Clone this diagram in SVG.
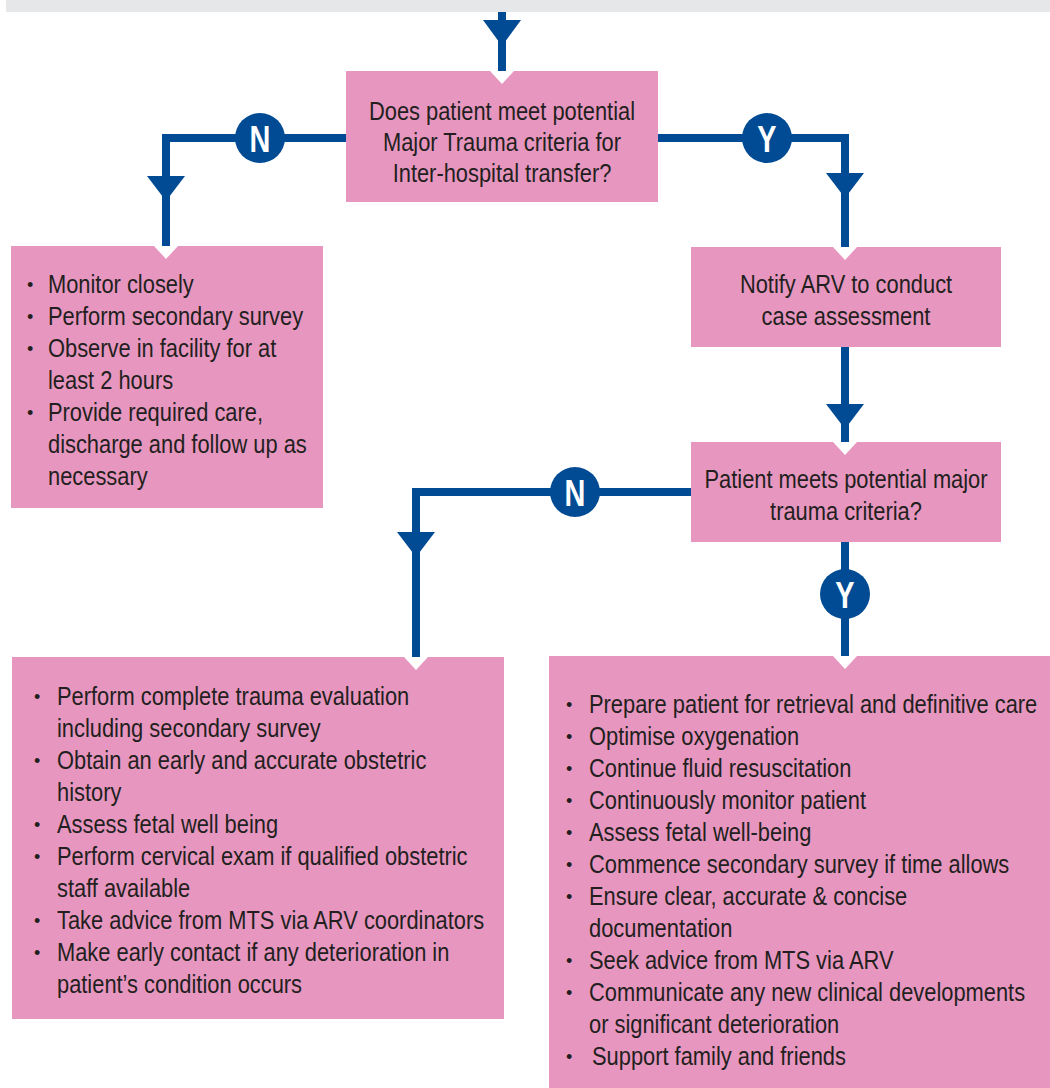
<svg xmlns="http://www.w3.org/2000/svg" width="1050" height="1088" viewBox="0 0 1050 1088">
<defs>
<style>
.box{fill:#e797bf}
.notch{fill:#ffffff}
.t{font-family:"Liberation Sans",Arial,sans-serif;font-size:25px;fill:#231f20;transform-box:fill-box;transform-origin:left center;transform:scaleX(0.875)}
.c{text-anchor:middle;transform-origin:center center}
.b{font-family:"Liberation Sans",Arial,sans-serif;font-size:18px;fill:#231f20}
.ln{stroke:#004b93;stroke-width:8;fill:none}
.ah{fill:#004b93}
.circ{fill:#004b93}
.lbl{font-family:"Liberation Sans",Arial,sans-serif;font-size:37px;font-weight:bold;fill:#ffffff;text-anchor:middle;transform-box:fill-box;transform-origin:center center;transform:scaleX(0.78)}
</style>
</defs>
<rect x="6" y="0" width="1044" height="12" fill="#e6e7e8"/>

<g id="connectors">
  <path class="ln" d="M502,12 V71"/>
  <polygon class="ah" points="483,20 521,20 502,46"/>
  <path class="ln" d="M346,138 H166 V246"/>
  <polygon class="ah" points="147,176 185,176 166,201"/>
  <path class="ln" d="M658,138 H845 V247"/>
  <polygon class="ah" points="826,173 864,173 845,198"/>
  <path class="ln" d="M845,347 V442"/>
  <polygon class="ah" points="826,404 864,404 845,429"/>
  <path class="ln" d="M691,492 H416 V657"/>
  <polygon class="ah" points="397,532 435,532 416,557"/>
  <path class="ln" d="M845,542 V656"/>
  <g id="lblN1"><circle class="circ" cx="260" cy="138" r="25"/><text class="lbl" x="260" y="152">N</text></g>
  <g id="lblY1"><circle class="circ" cx="767" cy="138" r="25"/><text class="lbl" x="767" y="152">Y</text></g>
  <g id="lblN2"><circle class="circ" cx="575" cy="492" r="25"/><text class="lbl" x="575" y="506">N</text></g>
  <g id="lblY2"><circle class="circ" cx="845" cy="594" r="25"/><text class="lbl" x="845" y="608">Y</text></g>
</g>

<g id="decision1">
  <rect class="box" x="346" y="71" width="312" height="131"/>
  <polygon class="notch" points="490,71 514,71 502,84"/>
  <text class="t c" x="502" y="120">Does patient meet potential</text>
  <text class="t c" x="502" y="151">Major Trauma criteria for</text>
  <text class="t c" x="502" y="182">Inter-hospital transfer?</text>
</g>

<g id="no-transfer">
  <rect class="box" x="11" y="246" width="312" height="262"/>
  <polygon class="notch" points="154,246 178,246 166,259"/>
  <text class="b" x="27" y="291">•</text><text class="t" x="48" y="293">Monitor closely</text>
  <text class="b" x="27" y="323">•</text><text class="t" x="48" y="325">Perform secondary survey</text>
  <text class="b" x="27" y="355">•</text><text class="t" x="48" y="357">Observe in facility for at</text>
  <text class="t" x="48" y="389">least 2 hours</text>
  <text class="b" x="27" y="419">•</text><text class="t" x="48" y="421">Provide required care,</text>
  <text class="t" x="48" y="453">discharge and follow up as</text>
  <text class="t" x="48" y="485">necessary</text>
</g>

<g id="notify">
  <rect class="box" x="691" y="247" width="310" height="100"/>
  <polygon class="notch" points="833,247 857,247 845,260"/>
  <text class="t c" x="846" y="293">Notify ARV to conduct</text>
  <text class="t c" x="846" y="325">case assessment</text>
</g>

<g id="decision2">
  <rect class="box" x="691" y="442" width="310" height="100"/>
  <polygon class="notch" points="833,442 857,442 845,455"/>
  <text class="t c" x="846" y="488">Patient meets potential major</text>
  <text class="t c" x="846" y="520">trauma criteria?</text>
</g>

<g id="no-major">
  <rect class="box" x="12" y="657" width="492" height="362"/>
  <polygon class="notch" points="404,657 428,657 416,670"/>
  <text class="b" x="34" y="703">•</text><text class="t" x="57" y="705">Perform complete trauma evaluation</text>
  <text class="t" x="57" y="737">including secondary survey</text>
  <text class="b" x="34" y="767">•</text><text class="t" x="57" y="769">Obtain an early and accurate obstetric</text>
  <text class="t" x="57" y="801">history</text>
  <text class="b" x="34" y="831">•</text><text class="t" x="57" y="833">Assess fetal well being</text>
  <text class="b" x="34" y="863">•</text><text class="t" x="57" y="865">Perform cervical exam if qualified obstetric</text>
  <text class="t" x="57" y="897">staff available</text>
  <text class="b" x="34" y="927">•</text><text class="t" x="57" y="929">Take advice from MTS via ARV coordinators</text>
  <text class="b" x="34" y="959">•</text><text class="t" x="57" y="961">Make early contact if any deterioration in</text>
  <text class="t" x="57" y="993">patient’s condition occurs</text>
</g>

<g id="major">
  <rect class="box" x="549" y="656" width="501" height="432"/>
  <polygon class="notch" points="833,656 857,656 845,669"/>
  <text class="b" x="566" y="711">•</text><text class="t" x="589" y="713">Prepare patient for retrieval and definitive care</text>
  <text class="b" x="566" y="743">•</text><text class="t" x="589" y="745">Optimise oxygenation</text>
  <text class="b" x="566" y="775">•</text><text class="t" x="589" y="777">Continue fluid resuscitation</text>
  <text class="b" x="566" y="807">•</text><text class="t" x="589" y="809">Continuously monitor patient</text>
  <text class="b" x="566" y="839">•</text><text class="t" x="589" y="841">Assess fetal well-being</text>
  <text class="b" x="566" y="871">•</text><text class="t" x="589" y="873">Commence secondary survey if time allows</text>
  <text class="b" x="566" y="903">•</text><text class="t" x="589" y="905">Ensure clear, accurate &amp; concise</text>
  <text class="t" x="589" y="937">documentation</text>
  <text class="b" x="566" y="967">•</text><text class="t" x="589" y="969">Seek advice from MTS via ARV</text>
  <text class="b" x="566" y="999">•</text><text class="t" x="589" y="1001">Communicate any new clinical developments</text>
  <text class="t" x="589" y="1033">or significant deterioration</text>
  <text class="b" x="566" y="1063">•</text><text class="t" x="592" y="1065">Support family and friends</text>
</g>
</svg>
